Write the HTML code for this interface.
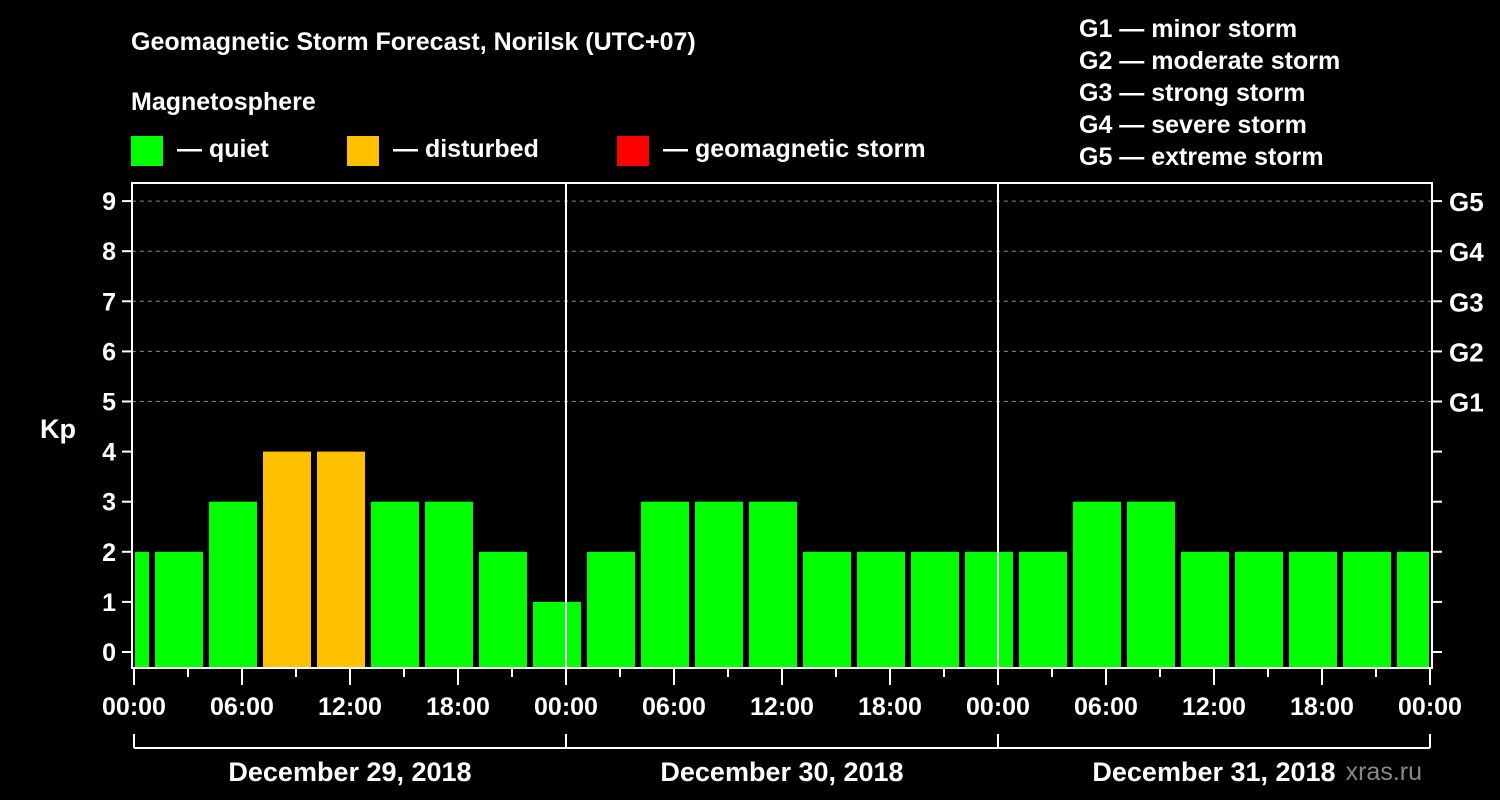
<!DOCTYPE html>
<html><head><meta charset="utf-8"><style>
html,body{margin:0;padding:0;background:#000;}
svg{display:block;font-family:"Liberation Sans",sans-serif;font-weight:bold;}
</style></head><body>
<svg id="c" width="1500" height="800" viewBox="0 0 1500 800">
<text x="131" y="50" fill="#fff" font-size="25">Geomagnetic Storm Forecast, Norilsk (UTC+07)</text>
<text x="131" y="110" fill="#fff" font-size="25">Magnetosphere</text>
<g><rect x="131" y="136" width="32" height="30" fill="#00ff00"/><text x="177" y="157" fill="#fff" font-size="25">— quiet</text></g>
<g><rect x="347" y="136" width="32" height="30" fill="#ffc000"/><text x="393" y="157" fill="#fff" font-size="25">— disturbed</text></g>
<g><rect x="617" y="136" width="32" height="30" fill="#ff0000"/><text x="663" y="157" fill="#fff" font-size="25">— geomagnetic storm</text></g>
<g fill="#fff" font-size="25">
<text x="1079" y="37">G1 — minor storm</text>
<text x="1079" y="69">G2 — moderate storm</text>
<text x="1079" y="101">G3 — strong storm</text>
<text x="1079" y="133">G4 — severe storm</text>
<text x="1079" y="165">G5 — extreme storm</text>
</g>
<g id="grid"></g><g id="bars"></g><g id="axes"></g>
<text x="40" y="438" fill="#fff" font-size="27">Kp</text>
<text x="1422" y="780" fill="#888" font-size="25" font-weight="normal" text-anchor="end">xras.ru</text>
</svg>
<script>
const startHours=[-2,1,4,7,10,13,16,19,22,25,28,31,34,37,40,43,46,49,52,55,58,61,64,67,70];
const kpValues=[2,2,3,4,4,3,3,2,1,2,3,3,3,2,2,2,2,2,3,3,2,2,2,2,2];
const yTicks=[0,1,2,3,4,5,6,7,8,9];
const gLabels=["G1","G2","G3","G4","G5"];
const timeLabels=["00:00","06:00","12:00","18:00","00:00","06:00","12:00","18:00","00:00","06:00","12:00","18:00","00:00"];
const dayLabels=["December 29, 2018","December 30, 2018","December 31, 2018"];
const NS="http://www.w3.org/2000/svg";
const L=132,R=1432,T=183,B=668,X0=134,PX=18;
const x=h=>X0+h*PX;
const y=v=>652-v*50.1;
function mk(tag,attrs,parent,text){const e=document.createElementNS(NS,tag);for(const k in attrs)e.setAttribute(k,attrs[k]);if(text!==undefined)e.textContent=text;document.getElementById(parent).appendChild(e);return e;}
yTicks.forEach(v=>{if(v>=5){const g=mk('line',{x1:L,x2:R,y1:y(v),y2:y(v),stroke:'#888','stroke-dasharray':'4,4','stroke-width':1},'grid');

}});
startHours.forEach((h,i)=>{const v=kpValues[i];let x1=Math.max(x(h)+3,L+3),x2=Math.min(x(h+3)-3,R-3);
const col=v>=5?'#ff0000':(v>=4?'#ffc000':'#00ff00');
const r=mk('rect',{x:x1,y:y(v),width:x2-x1,height:B-y(v),fill:col},'bars');

});
// frame
const f=mk('rect',{x:L,y:T,width:R-L,height:B-T,fill:'none',stroke:'#fff','stroke-width':2},'axes');


[24,48].forEach(h=>{const d=mk('line',{x1:x(h),x2:x(h),y1:T,y2:B,stroke:'#fff','stroke-width':2},'axes');

});
yTicks.forEach(v=>{mk('line',{x1:L-10,x2:L,y1:y(v),y2:y(v),stroke:'#fff','stroke-width':2},'axes');
mk('line',{x1:R,x2:R+10,y1:y(v),y2:y(v),stroke:'#fff','stroke-width':2},'axes');
const t=mk('text',{x:L-16,y:y(v)+9,fill:'#fff','font-size':25,'text-anchor':'end'},'axes',String(v));


if(v>=5){const g=mk('text',{x:R+17,y:y(v)+10,fill:'#fff','font-size':26},'axes',gLabels[v-5]);

}});
for(let h=0;h<=72;h+=3){const major=h%6===0;mk('line',{x1:x(h),x2:x(h),y1:B,y2:B+(major?17:9),stroke:'#fff','stroke-width':2},'axes');}
timeLabels.forEach((s,i)=>{const t=mk('text',{x:x(i*6),y:715,fill:'#fff','font-size':25,'text-anchor':'middle'},'axes',s);

});
mk('line',{x1:x(0),x2:x(72),y1:748,y2:748,stroke:'#fff','stroke-width':2},'axes');
[0,24,48,72].forEach(h=>mk('line',{x1:x(h),x2:x(h),y1:734,y2:748,stroke:'#fff','stroke-width':2},'axes'));
dayLabels.forEach((s,i)=>{const t=mk('text',{x:x(i*24+12),y:781,fill:'#fff','font-size':27,'text-anchor':'middle'},'axes',s);

});
</script>
</body></html>
